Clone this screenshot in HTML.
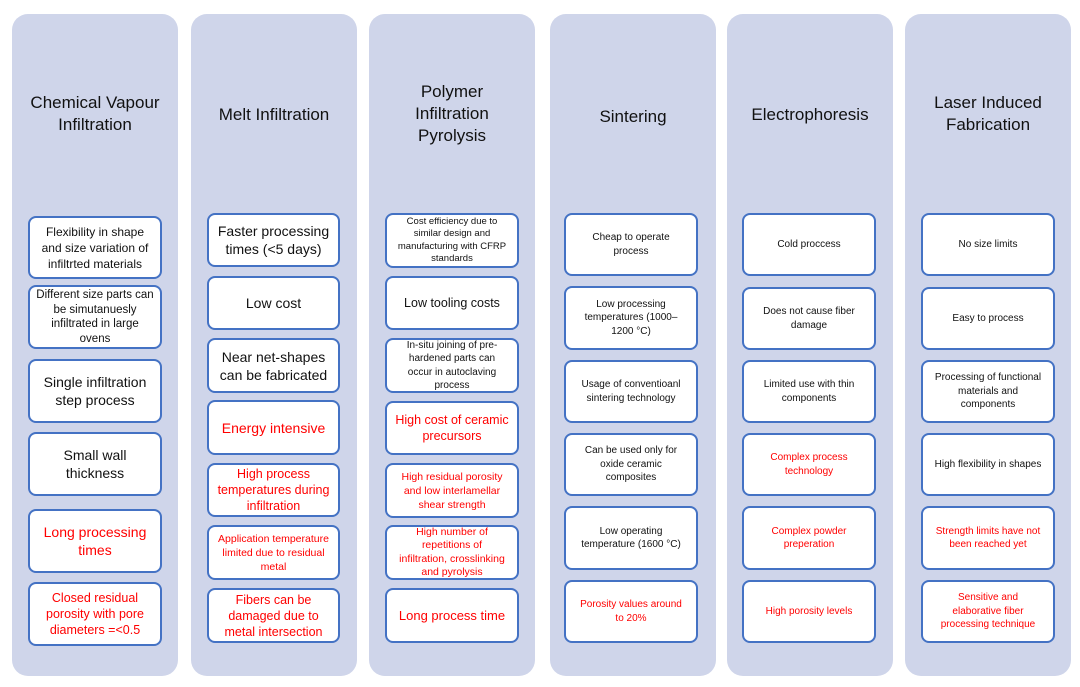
<!DOCTYPE html>
<html><head><meta charset="utf-8"><style>
body{margin:0;width:1080px;height:687px;background:#fff;position:relative;overflow:hidden;font-family:"Liberation Sans",sans-serif;}
.col{position:absolute;top:14px;height:662px;width:166px;background:#cfd5ea;border-radius:16px;}
.t{position:absolute;left:0;width:100%;text-align:center;font-size:17px;line-height:22px;color:#111;}
.b{position:absolute;background:#fff;border:2.5px solid #4472c4;border-radius:8px;box-sizing:border-box;display:flex;align-items:center;justify-content:center;text-align:center;color:#111;padding:0 4px;}
.s{padding:0 14px;}
.r{color:#f00;}
</style></head><body>
<div class="col" style="left:12px"><div class="t" style="top:78px">Chemical Vapour<br>Infiltration</div></div>
<div class="col" style="left:191px"><div class="t" style="top:90px">Melt Infiltration</div></div>
<div class="col" style="left:369px"><div class="t" style="top:67px">Polymer<br>Infiltration<br>Pyrolysis</div></div>
<div class="col" style="left:550px"><div class="t" style="top:92px">Sintering</div></div>
<div class="col" style="left:727px"><div class="t" style="top:90px">Electrophoresis</div></div>
<div class="col" style="left:905px"><div class="t" style="top:78px">Laser Induced<br>Fabrication</div></div>

<!-- col1 -->
<div class="b" style="left:28px;top:216px;width:134px;height:63px;font-size:12px;line-height:16px;padding:0 8px">Flexibility in shape and size variation of infiltrted materials</div>
<div class="b" style="left:28px;top:285px;width:134px;height:64px;font-size:11.5px;line-height:14.5px;padding:0 6px">Different size parts can be simutanuesly infiltrated in large ovens</div>
<div class="b" style="left:28px;top:359px;width:134px;height:64px;font-size:14px;line-height:18px">Single infiltration step process</div>
<div class="b" style="left:28px;top:432px;width:134px;height:64px;font-size:14px;line-height:18px;padding:0 20px">Small wall thickness</div>
<div class="b r" style="left:28px;top:509px;width:134px;height:64px;font-size:14px;line-height:18px">Long processing times</div>
<div class="b r" style="left:28px;top:582px;width:134px;height:64px;font-size:12.5px;line-height:16px">Closed residual porosity with pore diameters =&lt;0.5</div>
<!-- col2 -->
<div class="b" style="left:207px;top:213px;width:133px;height:54px;font-size:14px;line-height:18px">Faster processing times (&lt;5 days)</div>
<div class="b" style="left:207px;top:276px;width:133px;height:54px;font-size:14px">Low cost</div>
<div class="b" style="left:207px;top:338px;width:133px;height:55px;font-size:14px;line-height:18px">Near net-shapes can be fabricated</div>
<div class="b r" style="left:207px;top:400px;width:133px;height:55px;font-size:14px">Energy intensive</div>
<div class="b r" style="left:207px;top:463px;width:133px;height:54px;font-size:12.5px;line-height:16px">High process temperatures during infiltration</div>
<div class="b r" style="left:207px;top:525px;width:133px;height:55px;font-size:10.5px;line-height:14px">Application temperature limited due to residual metal</div>
<div class="b r" style="left:207px;top:588px;width:133px;height:55px;font-size:12.5px;line-height:16px;padding:0 10px">Fibers can be damaged due to metal intersection</div>
<!-- col3 -->
<div class="b" style="left:385px;top:213px;width:134px;height:55px;font-size:9.5px;line-height:12.5px;padding:0 8px">Cost efficiency due to similar design and manufacturing with CFRP standards</div>
<div class="b" style="left:385px;top:276px;width:134px;height:54px;font-size:12.5px">Low tooling costs</div>
<div class="b" style="left:385px;top:338px;width:134px;height:55px;font-size:10px;line-height:13.5px;padding:0 10px">In-situ joining of pre-hardened parts can occur in autoclaving process</div>
<div class="b r" style="left:385px;top:401px;width:134px;height:54px;font-size:12.5px;line-height:16px">High cost of ceramic precursors</div>
<div class="b r" style="left:385px;top:463px;width:134px;height:55px;font-size:10.5px;line-height:14px;padding:0 8px">High residual porosity and low interlamellar shear strength</div>
<div class="b r" style="left:385px;top:525px;width:134px;height:55px;font-size:10.5px;line-height:13.5px;padding:0 10px">High number of repetitions of infiltration, crosslinking and pyrolysis</div>
<div class="b r" style="left:385px;top:588px;width:134px;height:55px;font-size:13px">Long process time</div>
<!-- col4 -->
<div class="b s" style="left:564px;top:213px;width:134px;height:63px;font-size:10px;line-height:13.5px;padding:0 22px">Cheap to operate process</div>
<div class="b s" style="left:564px;top:286px;width:134px;height:64px;font-size:10px;line-height:13.5px">Low processing temperatures (1000–1200 °C)</div>
<div class="b s" style="left:564px;top:360px;width:134px;height:63px;font-size:10px;line-height:13.5px">Usage of conventioanl sintering technology</div>
<div class="b s" style="left:564px;top:433px;width:134px;height:63px;font-size:10px;line-height:13.5px">Can be used only for oxide ceramic composites</div>
<div class="b s" style="left:564px;top:506px;width:134px;height:64px;font-size:10px;line-height:13.5px">Low operating temperature (1600 °C)</div>
<div class="b r s" style="left:564px;top:580px;width:134px;height:63px;font-size:10px;line-height:13.5px">Porosity values around to 20%</div>
<!-- col5 -->
<div class="b s" style="left:742px;top:213px;width:134px;height:63px;font-size:10px;line-height:13.5px">Cold proccess</div>
<div class="b s" style="left:742px;top:287px;width:134px;height:63px;font-size:10px;line-height:13.5px">Does not cause fiber damage</div>
<div class="b s" style="left:742px;top:360px;width:134px;height:63px;font-size:10px;line-height:13.5px">Limited use with thin components</div>
<div class="b r s" style="left:742px;top:433px;width:134px;height:63px;font-size:10px;line-height:13.5px;padding:0 20px">Complex process technology</div>
<div class="b r s" style="left:742px;top:506px;width:134px;height:64px;font-size:10px;line-height:13.5px;padding:0 20px">Complex powder preperation</div>
<div class="b r s" style="left:742px;top:580px;width:134px;height:63px;font-size:10px;line-height:13.5px">High porosity levels</div>
<!-- col6 -->
<div class="b s" style="left:921px;top:213px;width:134px;height:63px;font-size:10px;line-height:13.5px">No size limits</div>
<div class="b s" style="left:921px;top:287px;width:134px;height:63px;font-size:10px;line-height:13.5px">Easy to process</div>
<div class="b s" style="left:921px;top:360px;width:134px;height:63px;font-size:10px;line-height:13.5px;padding:0 8px">Processing of functional materials and components</div>
<div class="b s" style="left:921px;top:433px;width:134px;height:63px;font-size:10px;line-height:13.5px;padding:0 4px">High flexibility in shapes</div>
<div class="b r s" style="left:921px;top:506px;width:134px;height:64px;font-size:10px;line-height:13.5px;padding:0 8px">Strength limits have not been reached yet</div>
<div class="b r s" style="left:921px;top:580px;width:134px;height:63px;font-size:10px;line-height:13.5px;padding:0 16px">Sensitive and elaborative fiber processing technique</div>
</body></html>
